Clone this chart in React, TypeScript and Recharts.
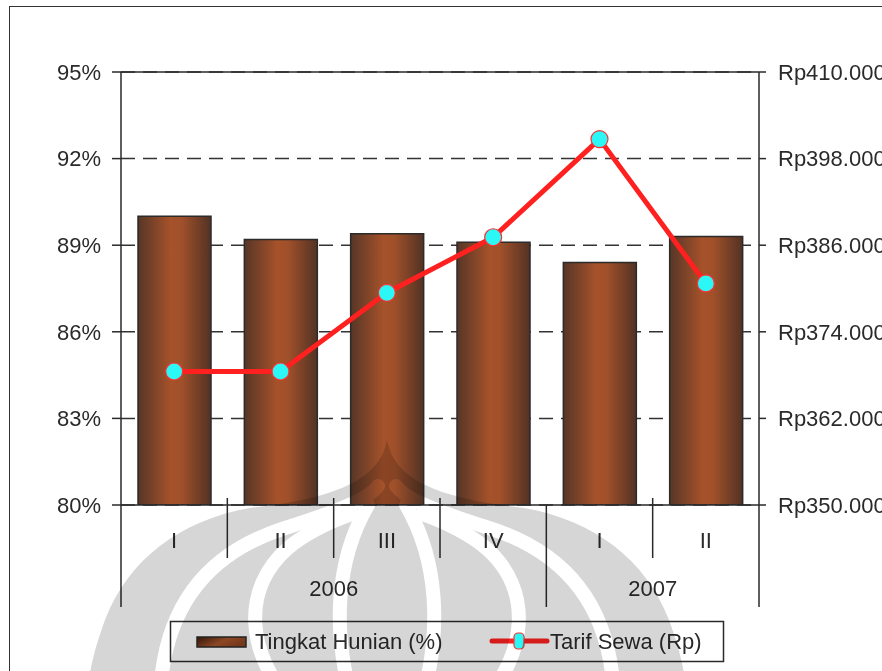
import React from "react";
import {
  ComposedChart,
  Bar,
  Line,
  XAxis,
  YAxis,
  CartesianGrid,
  ReferenceLine,
} from "recharts";

const KEYS = ["2006-I", "2006-II", "2006-III", "2006-IV", "2007-I", "2007-II"];
const QUARTERS = ["I", "II", "III", "IV", "I", "II"];
const YEARS = ["2006", "2006", "2006", "2006", "2007", "2007"];
const HUNIAN = [90.0, 89.2, 89.4, 89.1, 88.4, 89.3];
const TARIF = [368500, 368500, 379400, 387100, 400700, 380700];

const PCT_TICKS = [80, 83, 86, 89, 92, 95];
const RP_TICKS = [350000, 362000, 374000, 386000, 398000, 410000];

const W = 882;
const H = 671;
const PLOT_LEFT = 121;
const PLOT_RIGHT = 759;
const BAND = (PLOT_RIGHT - PLOT_LEFT) / KEYS.length;

const FONT = "'Liberation Sans', Arial, sans-serif";
const INK = "#2a2a2a";

const data = KEYS.map((key, i) => ({
  key,
  quarter: QUARTERS[i],
  year: YEARS[i],
  hunian: HUNIAN[i],
  tarif: TARIF[i],
}));

const rupiah = (v: number) => "Rp" + String(v).replace(/\B(?=(\d{3})+(?!\d))/g, ".");

// quarter labels, separators and the year row underneath
function QuarterTick(props: any) {
  const { x, y, payload } = props;
  const i = KEYS.indexOf(payload.value);
  const half = BAND / 2;
  const startsYear = i === 0 || YEARS[i] !== YEARS[i - 1];
  const yearCount = YEARS.filter((yr) => yr === YEARS[i]).length;
  const last = i === KEYS.length - 1;
  return (
    <g>
      {startsYear ? (
        <line x1={x - half} x2={x - half} y1={y} y2={y + 102} stroke={INK} strokeWidth={1.5} />
      ) : (
        <line x1={x - half} x2={x - half} y1={y - 7} y2={y + 53} stroke={INK} strokeWidth={1.5} />
      )}
      {last && <line x1={x + half} x2={x + half} y1={y} y2={y + 102} stroke={INK} strokeWidth={1.5} />}
      <text x={x} y={y + 35} dy="0.355em" textAnchor="middle" fill={INK} fontSize={22} fontFamily={FONT}>
        {QUARTERS[i]}
      </text>
      {startsYear && (
        <text
          x={x - half + yearCount * half}
          y={y + 83}
          dy="0.355em"
          textAnchor="middle"
          fill={INK}
          fontSize={22}
          fontFamily={FONT}
        >
          {YEARS[i]}
        </text>
      )}
    </g>
  );
}

function TarifDot(props: any) {
  const { cx, cy, index } = props;
  return <circle key={index} cx={cx} cy={cy} r={8.5} fill="#2cf7f7" stroke="#ff3030" strokeWidth={1.2} />;
}

// faint logo printed behind the figure, symmetric around x = 387
function Watermark() {
  return (
    <svg
      width={W}
      height={H}
      style={{ position: "absolute", left: 0, top: 0, mixBlendMode: "multiply", pointerEvents: "none" }}
    >
      <path
        d="M387,440 C380,478 340,498 250,508 C180,520 128,560 105,620 C96,645 90,665 86,700 L688,700 C684,665 678,645 669,620 C646,560 594,520 524,508 C434,498 394,478 387,440 Z"
        fill="#d6d6d6"
      />
      <g fill="none" stroke="#fff" strokeWidth={14} strokeLinecap="round">
        <path d="M160,700 C162,615 200,555 285,528 C335,512 368,500 378,486" />
        <path d="M614,700 C612,615 574,555 489,528 C439,512 406,500 396,486" />
        <path d="M290,700 C248,655 240,590 288,548 C310,530 335,520 352,514" />
        <path d="M484,700 C526,655 534,590 486,548 C464,530 439,520 422,514" />
        <path d="M352,700 C332,630 336,560 368,505" />
        <path d="M422,700 C442,630 438,560 406,505" />
      </g>
    </svg>
  );
}

function LegendBox() {
  return (
    <svg width={560} height={48} style={{ position: "absolute", left: 168, top: 619 }}>
      <defs>
        <linearGradient id="swatchShade" x1="0" y1="0" x2="1" y2="0.4">
          <stop offset="0" stopColor="#3a180a" />
          <stop offset="0.6" stopColor="#a8552a" />
          <stop offset="1" stopColor="#8c4220" />
        </linearGradient>
      </defs>
      <rect x={2.5} y={2.5} width={553} height={40} fill="none" stroke={INK} strokeWidth={1.5} />
      <rect x={29} y={18} width={49} height={10} fill="url(#swatchShade)" stroke={INK} strokeWidth={1.5} />
      <text x={87} y={22} dy="0.355em" fill={INK} fontSize={22} fontFamily={FONT}>
        Tingkat Hunian (%)
      </text>
      <line x1={324} x2={379} y1={22} y2={22} stroke="#ff2020" strokeWidth={5} strokeLinecap="round" />
      <rect x={346} y={14} width={10} height={16} rx={4} fill="#2cf7f7" stroke="#ff3030" strokeWidth={1.2} />
      <text x={382} y={22} dy="0.355em" fill={INK} fontSize={22} fontFamily={FONT}>
        Tarif Sewa (Rp)
      </text>
    </svg>
  );
}

export default function App() {
  return (
    <div
      style={{
        position: "absolute",
        left: 0,
        top: 0,
        width: W,
        height: H,
        overflow: "hidden",
        background: "#fff",
        fontFamily: FONT,
      }}
    >
      <div
        style={{
          position: "absolute",
          left: 8.5,
          top: 6,
          width: W,
          height: H,
          borderTop: "1.5px solid #333",
          borderLeft: "1.5px solid #333",
        }}
      />
      <ComposedChart
        width={W}
        height={H}
        data={data}
        margin={{ top: 72, right: 0, bottom: 56, left: 61 }}
        style={{ position: "absolute", left: 0, top: 0 }}
      >
        <defs>
          <linearGradient id="barShade" x1="0" y1="0" x2="1" y2="0">
            <stop offset="0" stopColor="#573627" />
            <stop offset="0.45" stopColor="#a6522a" />
            <stop offset="0.6" stopColor="#a0502a" />
            <stop offset="1" stopColor="#523224" />
          </linearGradient>
        </defs>
        <CartesianGrid
          yAxisId="pct"
          vertical={false}
          stroke="#333"
          strokeWidth={1.5}
          strokeDasharray="14 8"
        />
        <XAxis
          dataKey="key"
          height={110}
          axisLine={{ stroke: INK, strokeWidth: 1.5 }}
          tickLine={false}
          tickSize={0}
          tickMargin={0}
          interval={0}
          tick={<QuarterTick />}
        />
        <YAxis
          yAxisId="pct"
          width={60}
          domain={[80, 95]}
          ticks={PCT_TICKS}
          interval={0}
          allowDataOverflow
          tickFormatter={(v: number) => `${v}%`}
          axisLine={{ stroke: INK, strokeWidth: 1.5 }}
          tickLine={{ stroke: INK, strokeWidth: 1.5 }}
          tickSize={9}
          tickMargin={11}
          tick={{ fill: INK, fontSize: 22, fontFamily: FONT }}
        />
        <YAxis
          yAxisId="rp"
          orientation="right"
          width={123}
          domain={[350000, 410000]}
          ticks={RP_TICKS}
          interval={0}
          allowDataOverflow
          tickFormatter={rupiah}
          axisLine={{ stroke: INK, strokeWidth: 1.5 }}
          tickLine={{ stroke: INK, strokeWidth: 1.5 }}
          tickSize={7}
          tickMargin={12}
          tick={{ fill: INK, fontSize: 22, fontFamily: FONT, textAnchor: "start" }}
        />
        <ReferenceLine yAxisId="pct" y={95} stroke={INK} strokeWidth={1.5} />
        <Bar
          yAxisId="pct"
          dataKey="hunian"
          barSize={73}
          fill="url(#barShade)"
          stroke="#2b2b2b"
          strokeWidth={1.5}
          isAnimationActive={false}
        />
        <Line
          yAxisId="rp"
          dataKey="tarif"
          stroke="#ff2020"
          strokeWidth={5}
          strokeLinejoin="round"
          dot={TarifDot}
          activeDot={false}
          isAnimationActive={false}
        />
      </ComposedChart>
      <LegendBox />
      <Watermark />
    </div>
  );
}
